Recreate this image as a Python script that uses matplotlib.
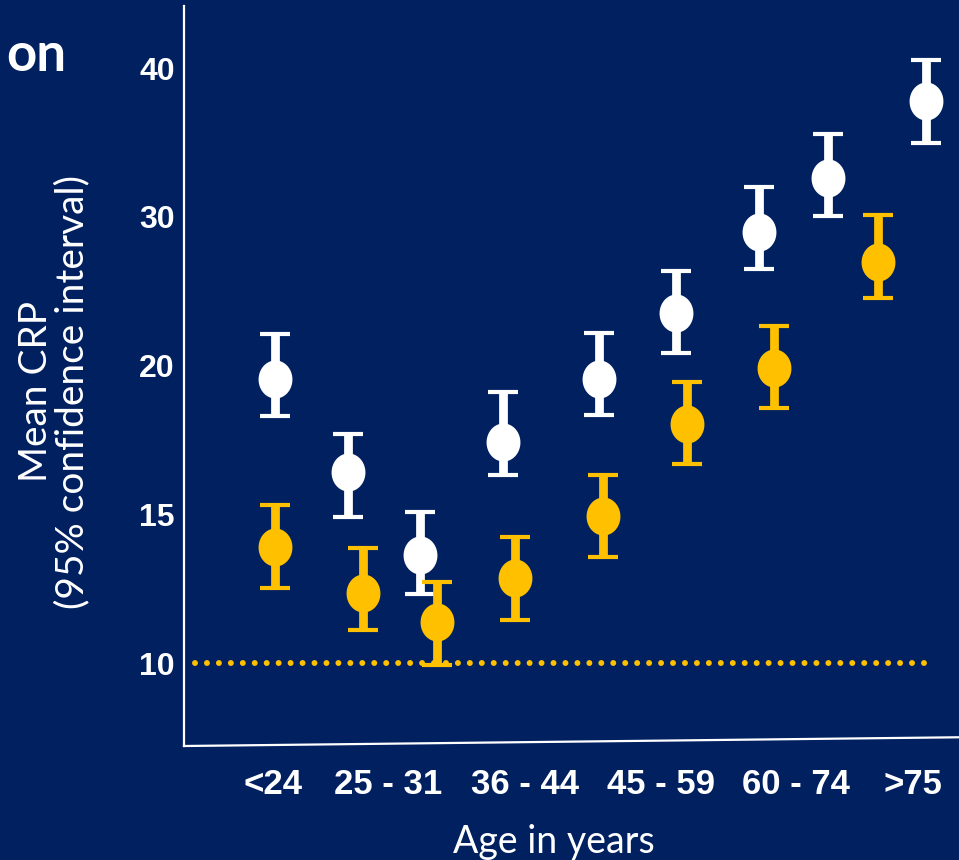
import numpy as np
import matplotlib
matplotlib.use("Agg")
import matplotlib.pyplot as plt
from matplotlib import font_manager
from matplotlib.path import Path

NAVY = "#002060"
GOLD = "#FFC000"
WHITE = "#FFFFFF"

# Age-group tick labels and where they sit along the x axis
age_labels = ["<24", "25 - 31", "36 - 44", "45 - 59", "60 - 74", ">75"]
age_label_pos = [1.15, 2.64, 4.40, 6.15, 7.89, 9.40]

# Upper series (white): position, mean CRP, lower / upper 95% CI
white_x = [1.18, 2.11, 3.05, 4.12, 5.35, 6.35, 7.42, 8.31, 9.58]
white_mean = [19.55, 16.43, 13.63, 17.44, 19.55, 23.51, 29.00, 32.63, 37.78]
white_low = [18.31, 14.91, 12.32, 16.33, 18.35, 20.87, 26.51, 30.03, 34.96]
white_high = [22.10, 17.69, 15.08, 19.11, 22.18, 26.37, 32.00, 35.58, 40.54]

# Lower series (gold)
gold_x = [1.17, 2.31, 3.27, 4.27, 5.40, 6.49, 7.61, 8.95]
gold_mean = [13.89, 12.36, 11.37, 12.87, 14.95, 18.02, 19.91, 26.98]
gold_low = [12.52, 11.11, 9.94, 11.46, 13.55, 16.70, 18.57, 24.54]
gold_high = [15.30, 13.87, 12.72, 14.24, 16.31, 19.45, 22.66, 30.14]

# Reference level drawn as a dotted line
ref_level = 10
ref_span = [0.14, 9.60]

y_ticks = [10, 15, 20, 30, 40]


def pick(*names):
    avail = {f.name for f in font_manager.fontManager.ttflist}
    for n in names:
        if n in avail:
            return n
    return "DejaVu Sans"


narrow = pick("Liberation Sans Narrow", "Liberation Sans")
bold_sans = pick("Liberation Sans", "DejaVu Sans")
light = pick("Lato", "Open Sans", "DejaVu Sans")

# Piecewise-linear axis: equal spacing between 10, 15, 20, 30, 40
knots_v = np.array([-100, 10, 15, 20, 30, 40, 200], dtype=float)
knots_i = np.array([-22, 0, 1, 2, 3, 4, 20], dtype=float)


def fwd(v):
    return np.interp(v, knots_v, knots_i)


def inv(i):
    return np.interp(i, knots_i, knots_v)


fig = plt.figure(figsize=(9.59, 8.6), dpi=100, facecolor=NAVY)
ax = fig.add_axes([184 / 959, 114 / 860, 775 / 959, 740 / 860])
ax.set_facecolor(NAVY)
ax.set_yscale("function", functions=(fwd, inv))
ax.set_xlim(0, 10)
ax.set_ylim(7.21, 44.17)

# Slightly elliptical marker
t = np.linspace(0, 2 * np.pi, 60)
ellipse = Path(np.column_stack([0.89 * np.cos(t), np.sin(t)]))


def draw_series(x, mean, low, high, color):
    mean = np.asarray(mean)
    yerr = [mean - np.asarray(low), np.asarray(high) - mean]
    ax.errorbar(x, mean, yerr=yerr, fmt="none", ecolor=color,
                elinewidth=6.3, capsize=10.8, capthick=3.0, zorder=3)
    ax.plot(x, mean, linestyle="none", marker=ellipse, markersize=27.4,
            color=color, markeredgewidth=0, zorder=4)


ax.hlines(ref_level, ref_span[0], ref_span[1], colors=GOLD, linewidth=4.3,
          linestyles=(0, (0.001, 2.0)), capstyle="round", zorder=2)

draw_series(white_x, white_mean, white_low, white_high, WHITE)
draw_series(gold_x, gold_mean, gold_low, gold_high, GOLD)

for s in ax.spines.values():
    s.set_visible(False)
# Hand-drawn looking axis lines
ax.plot([0, 1], [0, 0.0118], transform=ax.transAxes, color=WHITE,
        linewidth=1.6, clip_on=False, zorder=5)
ax.plot([0, 0], [0, 1], transform=ax.transAxes, color=WHITE,
        linewidth=1.6, clip_on=False, zorder=5)

ax.set_yticks(y_ticks)
ax.set_yticklabels([str(v) for v in y_ticks])
ax.yaxis.set_minor_locator(matplotlib.ticker.NullLocator())
ax.tick_params(axis="y", length=0, pad=6.5, labelcolor=WHITE,
               labelsize=23)
for lab in ax.get_yticklabels():
    lab.set_fontfamily(bold_sans)
    lab.set_fontweight("bold")

ax.set_xticks(age_label_pos)
ax.set_xticklabels(age_labels)
ax.tick_params(axis="x", length=0, pad=16, labelcolor=WHITE, labelsize=25)
for lab in ax.get_xticklabels():
    lab.set_fontfamily(narrow)
    lab.set_fontweight("bold")

ax.set_ylabel("Mean CRP\n(95% confidence interval)", color=WHITE,
              fontsize=28, fontfamily=light, fontweight="normal",
              linespacing=1.0)
ax.yaxis.set_label_coords(-0.168, 0.479)
ax.yaxis.label.set_va("center")

ax.set_xlabel("Age in years", color=WHITE, fontsize=27, fontfamily=light,
              fontweight="normal")
ax.xaxis.set_label_coords(0.477, -0.13)
ax.xaxis.label.set_va("center")

fig.text(66 / 959, (860 - 71) / 860, "on", color=WHITE, fontsize=38,
         fontfamily=pick("Lato", "DejaVu Sans"), fontweight="bold",
         ha="right", va="baseline")

fig.savefig("out.png", dpi=100, facecolor=NAVY)
